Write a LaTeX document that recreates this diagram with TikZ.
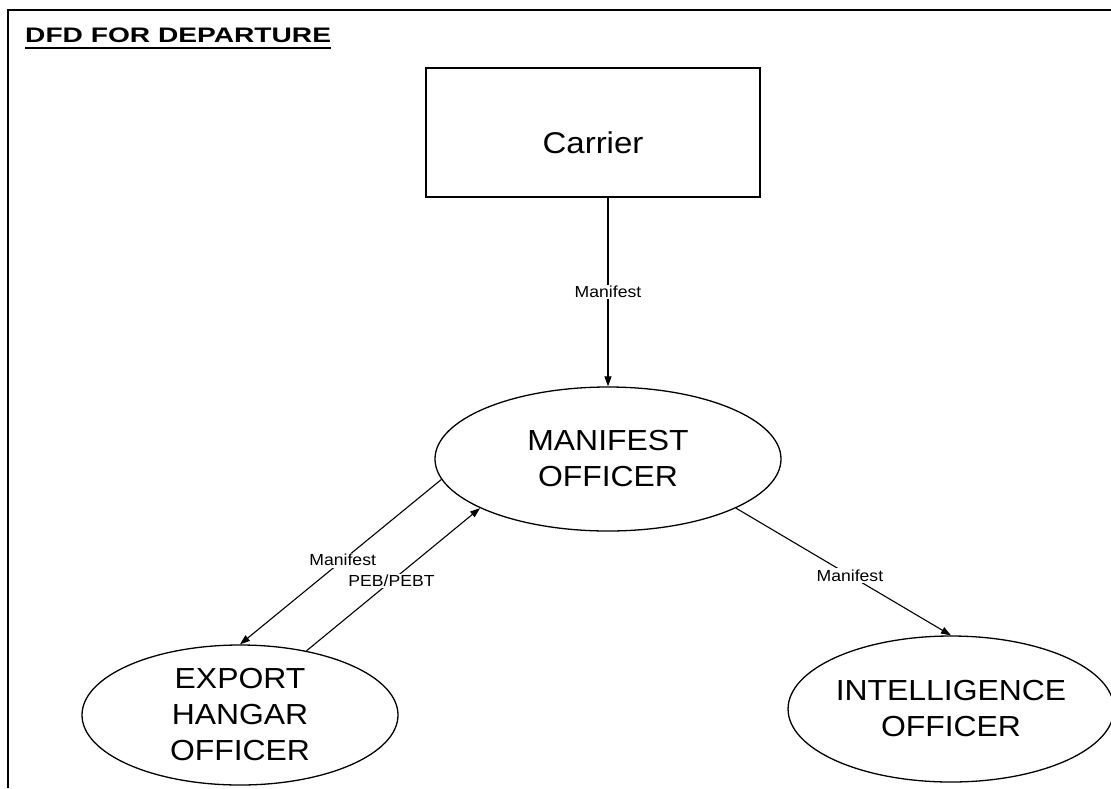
\documentclass[tikz,border=0pt]{standalone}
\usepackage{fontspec}
\setmainfont{Liberation Sans}[FakeStretch=1.1]
\newfontfamily\titlefont{Liberation Sans}[FakeStretch=1.34]
\usetikzlibrary{shapes.geometric,arrows.meta}

\tikzset{
  frameline/.style={line width=1.5pt},
  entity/.style={draw, line width=1.2pt, rectangle, inner sep=0pt},
  process/.style={draw, line width=1.3pt, ellipse, inner sep=0pt,
    align=center, font=\fontsize{29}{36}\selectfont},
  flow/.style={line width=1.1pt, -{Triangle[length=10pt,width=7pt]}},
  flowlabel/.style={fill=white, inner sep=1.5pt, font=\fontsize{16}{18}\selectfont},
}

\begin{document}
\begin{tikzpicture}[x=1pt, y=-1pt]
  \useasboundingbox (0,0) rectangle (1111,788);

  % page frame (top and left edges)
  \coordinate (fTL) at (8,10);
  \coordinate (fTR) at (1111,10);
  \coordinate (fBL) at (8,788);
  \draw[frameline] (fTR) -- (fTL) -- (fBL);

  % heading
  \node[anchor=west, inner sep=0pt, font=\titlefont\bfseries\fontsize{21}{24}\selectfont]
    (title) at (25,35) {DFD FOR DEPARTURE};
  \draw[line width=1.8pt] (title.west |- 0,48) -- (title.east |- 0,48);

  % external entity
  \node[entity, minimum width=334pt, minimum height=129pt,
        label={[yshift=-10pt, font=\fontsize{30}{34}\selectfont]center:Carrier}]
    (carrier) at (593,132.5) {};

  % processes
  \node[process, minimum width=346pt, minimum height=144pt] (mo) at (608,459)
    {MANIFEST\\OFFICER};
  \node[process, minimum width=316pt, minimum height=140pt] (eh) at (240,715)
    {EXPORT\\HANGAR\\OFFICER};
  \node[process, minimum width=316pt, minimum height=146pt] (io) at (951,709)
    {INTELLIGENCE\\OFFICER};

  % data flows
  \draw[flow] (mo.north |- carrier.south) -- node[flowlabel, pos=0.5] {Manifest} (mo.north);
  \draw[flow] (mo.187) -- node[flowlabel, pos=0.49] {Manifest} (eh.north);
  \draw[flow] (eh.44) -- node[flowlabel, pos=0.49] {PEB/PEBT} (mo.201);
  \draw[flow] (mo.339) -- node[flowlabel, pos=0.53] {Manifest} (io.north);
\end{tikzpicture}
\end{document}
